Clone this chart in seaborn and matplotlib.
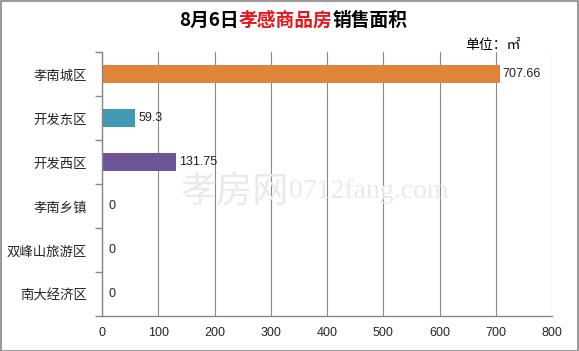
import matplotlib
matplotlib.use("Agg")
import matplotlib.pyplot as plt
import seaborn as sns
import pandas as pd
from matplotlib.patches import Rectangle

categories = ["孝南城区", "开发东区", "开发西区", "孝南乡镇", "双峰山旅游区", "南大经济区"]
values = [707.66, 59.3, 131.75, 0, 0, 0]
value_labels = ["707.66", "59.3", "131.75", "0", "0", "0"]
colors = ["#E0843A", "#4299B1", "#6E5597", "#888888", "#888888", "#888888"]
xticks = [0, 100, 200, 300, 400, 500, 600, 700, 800]

sns.set_theme(style="white")
plt.rcParams['font.family'] = ['Noto Sans CJK SC', 'DejaVu Sans']

fig = plt.figure(figsize=(5.79, 3.51), dpi=100)
ax = fig.add_axes([102/579, 1-316/351, 450/579, 264/351])

df = pd.DataFrame({"cat": categories, "val": values})
sns.barplot(data=df, y="cat", x="val", hue="cat", palette=colors, legend=False,
            width=0.4, ax=ax, orient="h", saturation=1, linewidth=0)

numfont = ['Liberation Sans', 'DejaVu Sans']
ax.set_xlim(0, 800)
ax.set_xticks(xticks)
ax.set_xticklabels([str(t) for t in xticks], fontsize=9, family=numfont)
ax.set_xlabel("")
ax.set_ylabel("")
ax.set_yticks(range(len(categories)))
ax.set_yticklabels(categories, fontsize=9.6)
ax.tick_params(axis='y', which='major', length=0, pad=11)
ax.set_yticks([i - 0.5 for i in range(len(categories) + 1)], minor=True)
ax.tick_params(axis='y', which='minor', length=5, color='#888888', direction='out', left=True)
ax.tick_params(axis='x', length=4, color='#888888', direction='inout', pad=6)
ax.set_ylim(len(categories) - 0.5, -0.5)

ax.grid(axis='x', color='#888888', linewidth=0.8)
ax.set_axisbelow(True)
for s in ['top', 'right']:
    ax.spines[s].set_visible(False)
for s in ['left', 'bottom']:
    ax.spines[s].set_color('#888888')
    ax.spines[s].set_linewidth(1.0)

for i, (v, lab) in enumerate(zip(values, value_labels)):
    ax.annotate(lab, xy=(v, i), xytext=(2 if v > 0 else 4.5, 0), textcoords='offset points',
                va='center', ha='left', fontsize=9, family=numfont, color='#222222')

# watermark
fig.text(0.50, 0.455, "孝房网", fontsize=26, color='#EAEAEA', ha='right', va='center', zorder=0)
fig.text(0.50, 0.455, "0712fang.com", fontsize=20, color='#EAEAEA', ha='left', va='center',
         family=['Liberation Serif', 'DejaVu Serif'], zorder=0)

# title with coloured parts
parts = [("8月6日", "black"), ("孝感商品房", "#E8161A"), ("销售面积", "black")]
fig.canvas.draw()
renderer = fig.canvas.get_renderer()
texts = []
widths = []
for t, c in parts:
    tx = fig.text(0, 1 - 20/351, t, fontsize=13.5, fontweight='bold', color=c, va='center', ha='left')
    texts.append(tx)
    widths.append(tx.get_window_extent(renderer).width)
total = sum(widths)
x0 = (293 - total/2)
for tx, w in zip(texts, widths):
    tx.set_x(x0/579)
    x0 += w

fig.text(465/579, 1 - 45/351, "单位：㎡", fontsize=10, color='black', va='center', ha='left')

# figure border
fig.patches.append(Rectangle((0.5/579, 0.5/351), 1 - 1.5/579, 1 - 1.5/351, transform=fig.transFigure,
                             fill=False, edgecolor='#888888', linewidth=1.2))

fig.savefig("out.png", dpi=100)
